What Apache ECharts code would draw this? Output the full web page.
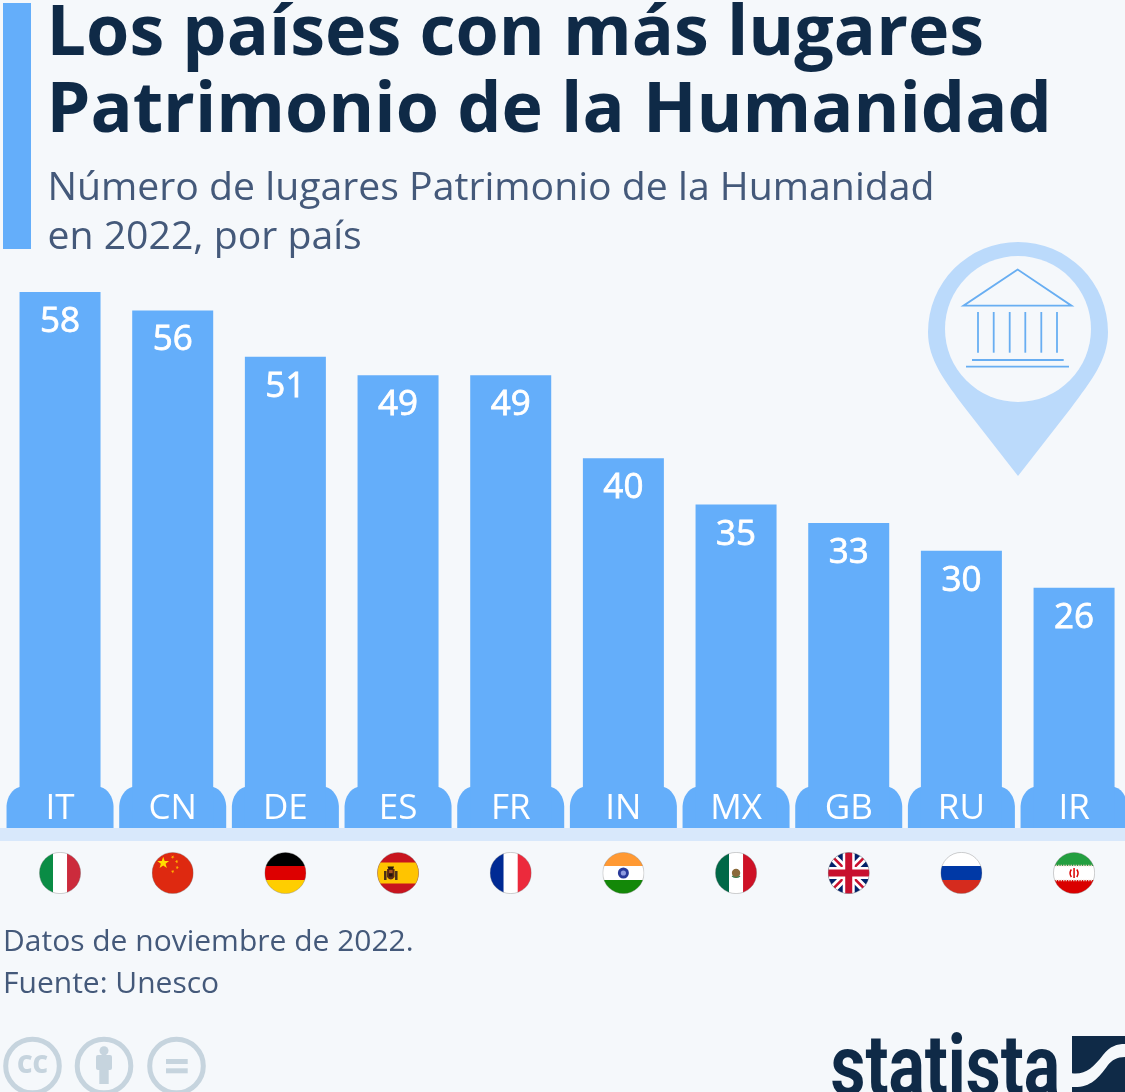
<!DOCTYPE html>
<html><head><meta charset="utf-8">
<script src="https://cdn.jsdelivr.net/npm/echarts@6/dist/echarts.min.js"></script>
<style>html,body{margin:0;padding:0;background:#f5f8fb;overflow:hidden}#c{width:1125px;height:1092px}</style>
</head><body><div id="c"></div>
<script>
const codes = ['IT','CN','DE','ES','FR','IN','MX','GB','RU','IR'];
const values = [58,56,51,49,49,40,35,33,30,26];
const titleText = 'Los países con más lugares\nPatrimonio de la Humanidad';
const subtitleText = 'Número de lugares Patrimonio de la Humanidad\nen 2022, por país';
const noteLines = ['Datos de noviembre de 2022.','Fuente: Unesco'];
const brandText = 'statista';

const BLUE='#64aefa', BG='#f5f8fb', NAVY='#0f2a47', SLATE='#44597a', PALE='#bbdafb', BAND='#d8e8fb', GREY='#c6d4de';

function star(cx,cy,r,rot,fill){
  let p=[];for(let i=0;i<10;i++){const a=rot+i*Math.PI/5-Math.PI/2,q=i%2?r*0.4:r;p.push((cx+q*Math.cos(a)).toFixed(2)+','+(cy+q*Math.sin(a)).toFixed(2));}
  return `<polygon points="${p.join(' ')}" fill="${fill}"/>`;
}
const flagArt = {
  IT:`<rect width="14" height="42" fill="#0a8c45"/><rect x="14" width="14" height="42" fill="#fff"/><rect x="28" width="14" height="42" fill="#cc2b3c"/>`,
  CN:`<rect width="42" height="42" fill="#de2910"/>${star(11.5,11,6.2,0,'#ffde00')}${star(21,5,1.9,0.5,'#ffb000')}${star(25,9.5,1.9,1,'#ffb000')}${star(25.5,15.5,1.9,0.2,'#ffb000')}${star(21,19.5,1.9,0.7,'#ffb000')}`,
  DE:`<rect width="42" height="14" fill="#000"/><rect y="14" width="42" height="14" fill="#dd0000"/><rect y="28" width="42" height="14" fill="#ffce00"/>`,
  ES:`<rect width="42" height="42" fill="#c8141e"/><rect y="10.5" width="42" height="21" fill="#ffc400"/><path d="M7 19h2.5v9H7zM18 19h2.5v9H18z" fill="#4a3018"/><path d="M10 17h7.5v8q-3.7 5-7.5 0z" fill="#5a2a14"/><path d="M10.5 14.5h6.5l-1 3h-4.5z" fill="#2e1c0c"/><path d="M12 18h3.5v3H12z" fill="#a5521e"/><path d="M12 21.5h3.5v3H12z" fill="#241409"/>`,
  FR:`<rect width="14" height="42" fill="#002a94"/><rect x="14" width="14" height="42" fill="#fff"/><rect x="28" width="14" height="42" fill="#ec2a3c"/>`,
  IN:`<rect width="42" height="14" fill="#ff9933"/><rect y="14" width="42" height="14" fill="#fff"/><rect y="28" width="42" height="14" fill="#138808"/><circle cx="21" cy="21" r="5.5" fill="#2a3a9a"/><circle cx="21" cy="21" r="2.6" fill="#8f9be0"/>`,
  MX:`<rect width="14" height="42" fill="#006847"/><rect x="14" width="14" height="42" fill="#fff"/><rect x="28" width="14" height="42" fill="#ce1126"/><circle cx="21" cy="21" r="4.2" fill="#8a6a3a"/><path d="M17 24q4 3 8 0" stroke="#3a7a4a" stroke-width="1.2" fill="none"/>`,
  GB:`<rect width="42" height="42" fill="#012169"/><path d="M0 0L42 42M42 0L0 42" stroke="#fff" stroke-width="8"/><path d="M0 0L42 42M42 0L0 42" stroke="#c8102e" stroke-width="2.6"/><path d="M21 0V42M0 21H42" stroke="#fff" stroke-width="12"/><path d="M21 0V42M0 21H42" stroke="#c8102e" stroke-width="7"/>`,
  RU:`<rect width="42" height="14" fill="#fff"/><rect y="14" width="42" height="14" fill="#0039a6"/><rect y="28" width="42" height="14" fill="#d52b1e"/>`,
  IR:`<rect width="42" height="14" fill="#239f40"/><rect y="14" width="42" height="14" fill="#fff"/><rect y="28" width="42" height="14" fill="#da0000"/><path d="M0 13.5H42M0 28.5H42" stroke="#e9c9c0" stroke-width="1.4" stroke-dasharray="1.5 1"/><path d="M21 16V26M18.3 17.5q-2.6 3.5 0 7.5M23.7 17.5q2.6 3.5 0 7.5" stroke="#da0000" stroke-width="1.5" fill="none"/>`
};
function flagUri(code){
  const svg=`<svg xmlns="http://www.w3.org/2000/svg" width="84" height="84" viewBox="0 0 42 42"><defs><clipPath id="k"><circle cx="21" cy="21" r="20.6"/></clipPath></defs><g clip-path="url(#k)">${flagArt[code]}</g><circle cx="21" cy="21" r="20.6" fill="none" stroke="#777" stroke-opacity="0.7" stroke-width="0.5"/></svg>`;
  return 'data:image/svg+xml;charset=utf-8,'+encodeURIComponent(svg);
}
function tabItem(params, api){
  const p=api.coord([api.value(0),0]);
  const x=p[0],y=p[1];
  const d=`M${x-40.5} ${y-41}L${x+40.5} ${y-41}C${x+48} ${y-39} ${x+53} ${y-31} ${x+53.5} ${y-22}L${x+53.5} ${y}L${x-53.5} ${y}L${x-53.5} ${y-22}C${x-53} ${y-31} ${x-48} ${y-39} ${x-40.5} ${y-41}Z`;
  return {type:'path',shape:{pathData:d},style:{fill:BLUE}};
}
function flagItem(params, api){
  const i=api.value(0);
  const p=api.coord([i,0]);
  return {type:'image',style:{image:flagUri(codes[i]),x:p[0]-21,y:p[1]+24,width:42,height:42}};
}
const line=(x1,y1,x2,y2,c,w)=>({type:'line',shape:{x1,y1,x2,y2},style:{stroke:c,lineWidth:w}});
const TEMPLE='#68aef2';
const columnsX=[978,993.7,1009.7,1025.3,1041.3,1057];
function decorItem(){
  return {type:'group',children:[
    {type:'path',shape:{pathData:'M1018 476L965 408C945 381 928 360 928 332A90 90 0 0 1 1108 332C1108 360 1091 381 1071 408Z'},style:{fill:PALE}},
    {type:'circle',shape:{cx:1018,cy:329,r:73},style:{fill:BG}},
    {type:'polygon',shape:{points:[[1017.7,269.5],[963.5,305.7],[1071.5,305.7]]},style:{fill:'none',stroke:TEMPLE,lineWidth:1.8}},
    ...columnsX.map(x=>line(x,312,x,352.7,TEMPLE,1.8)),
    line(972,360,1063.7,360,TEMPLE,1.8),
    line(966,366.7,1069,366.7,TEMPLE,1.8),
    {type:'rect',shape:{x:1072,y:1036,width:53,height:56},style:{fill:NAVY}},
    {type:'path',shape:{pathData:'M1072 1073.3C1085 1075 1093 1068 1103 1055C1110 1046 1117 1044 1125 1044L1125 1057C1117 1057 1112 1060 1108 1065C1098 1079 1090 1088 1072 1087Z'},style:{fill:BG}}
  ]};
}

const chart=echarts.init(document.getElementById('c'),null,{renderer:'canvas'});
chart.setOption({
  animation:false,
  backgroundColor:BG,
  title:[
    {text:titleText,left:41.5,top:-8,textStyle:{fontFamily:'Open Sans',fontWeight:700,fontSize:70,lineHeight:77,color:NAVY}},
    {text:subtitleText,left:42.5,top:160,textStyle:{fontFamily:'Open Sans',fontWeight:400,fontSize:39.2,lineHeight:48.5,color:SLATE}},
    {text:noteLines.join('\n'),left:-2,top:917,textStyle:{fontFamily:'Open Sans',fontWeight:400,fontSize:30,lineHeight:41.5,color:SLATE}}
  ],
  grid:{left:3.7,top:292,width:1126.7,height:536,outerBoundsMode:'none',containLabel:false},
  xAxis:{type:'category',data:codes,z:10,axisLine:{show:false},axisTick:{show:false},
    axisLabel:{inside:true,margin:1,color:'#fff',fontFamily:'Open Sans',fontSize:35,interval:0}},
  yAxis:{type:'value',min:0,max:58,show:false,splitLine:{show:false}},
  series:[
    {type:'custom',data:[[0]],encode:{x:0},renderItem:decorItem,z:1,silent:true,clip:false},
    {type:'bar',data:values,barWidth:81,z:3,itemStyle:{color:BLUE},
      label:{show:true,position:'insideTop',distance:12.5,color:'#fff',fontFamily:'Open Sans',fontWeight:400,fontSize:35,textBorderColor:'#fff',textBorderWidth:0.8}},
    {type:'custom',data:codes.map((c,i)=>[i]),encode:{x:0},renderItem:tabItem,z:3,silent:true,clip:false},
    {type:'custom',data:codes.map((c,i)=>[i]),encode:{x:0},renderItem:flagItem,z:3,silent:true,clip:false}
  ],
  graphic:[
    {type:'rect',shape:{x:3,y:3,width:28,height:246},style:{fill:BLUE},z:1},
    {type:'rect',shape:{x:0,y:828,width:1125,height:13},style:{fill:BAND},z:1},
    {type:'circle',shape:{cx:32.5,cy:1066,r:26.8},style:{fill:'none',stroke:GREY,lineWidth:5},z:1},
    {type:'circle',shape:{cx:104,cy:1066,r:26.8},style:{fill:'none',stroke:GREY,lineWidth:5},z:1},
    {type:'circle',shape:{cx:176.5,cy:1066,r:26.8},style:{fill:'none',stroke:GREY,lineWidth:5},z:1},
    {type:'text',style:{text:'CC',x:32.5,y:1066,align:'center',verticalAlign:'middle',fontFamily:'Open Sans',fontWeight:800,fontSize:24,fill:GREY},z:1},
    {type:'circle',shape:{cx:104,cy:1050.7,r:4.5},style:{fill:GREY},z:1},
    {type:'rect',shape:{x:96,y:1055,width:16,height:15,r:2},style:{fill:GREY},z:1},
    {type:'rect',shape:{x:99.3,y:1065,width:9.4,height:19},style:{fill:GREY},z:1},
    {type:'rect',shape:{x:166,y:1059,width:21.7,height:5},style:{fill:GREY},z:1},
    {type:'rect',shape:{x:166,y:1068.3,width:21.7,height:5},style:{fill:GREY},z:1},
    {type:'text',x:830.5,y:1116,scaleX:0.8,style:{text:brandText,x:0,y:0,align:'left',verticalAlign:'bottom',fontFamily:'Roboto',fontWeight:700,fontSize:85,fill:NAVY},z:1}
  ]
});
</script></body></html>
